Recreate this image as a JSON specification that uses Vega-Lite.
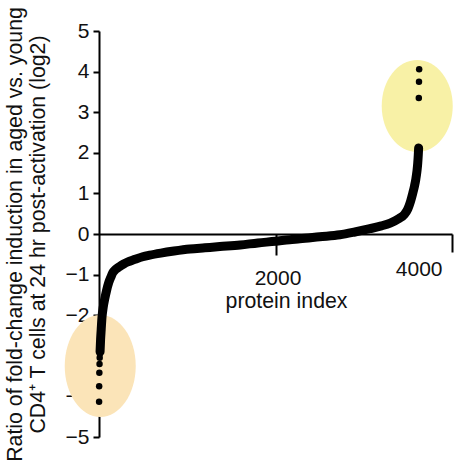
{
  "$schema": "https://vega.github.io/schema/vega-lite/v6.json",
  "width": 353,
  "height": 406,
  "autosize": {"type": "none"},
  "padding": {"left": 99, "top": 31, "right": 20, "bottom": 32},
  "background": "white",
  "config": {
    "view": {"stroke": null},
    "font": "Liberation Sans",
    "axis": {
      "grid": false,
      "domainColor": "black",
      "domainWidth": 2,
      "tickColor": "black",
      "tickWidth": 2,
      "labelColor": "#111111",
      "labelFont": "Liberation Sans",
      "labelFontSize": 21,
      "titleColor": "#111111",
      "titleFont": "Liberation Sans",
      "titleFontSize": 21.3,
      "titleFontWeight": "normal",
      "zindex": 1
    }
  },
  "datasets": {
    "curve": [
      {"x": 12, "y": -2.9},
      {"x": 18, "y": -2.6},
      {"x": 25, "y": -2.35},
      {"x": 34, "y": -2.05},
      {"x": 48, "y": -1.8},
      {"x": 65, "y": -1.6},
      {"x": 85, "y": -1.4},
      {"x": 110, "y": -1.2},
      {"x": 135, "y": -1.06},
      {"x": 155, "y": -0.96},
      {"x": 190, "y": -0.87},
      {"x": 235, "y": -0.8},
      {"x": 280, "y": -0.74},
      {"x": 325, "y": -0.69},
      {"x": 400, "y": -0.63},
      {"x": 495, "y": -0.56},
      {"x": 575, "y": -0.52},
      {"x": 700, "y": -0.47},
      {"x": 850, "y": -0.42},
      {"x": 1030, "y": -0.37},
      {"x": 1200, "y": -0.34},
      {"x": 1370, "y": -0.31},
      {"x": 1600, "y": -0.27},
      {"x": 1800, "y": -0.22},
      {"x": 2000, "y": -0.18},
      {"x": 2160, "y": -0.14},
      {"x": 2275, "y": -0.12},
      {"x": 2500, "y": -0.07},
      {"x": 2730, "y": -0.02},
      {"x": 2900, "y": 0.05},
      {"x": 3070, "y": 0.13},
      {"x": 3200, "y": 0.2},
      {"x": 3300, "y": 0.27},
      {"x": 3400, "y": 0.38},
      {"x": 3460, "y": 0.48},
      {"x": 3500, "y": 0.62},
      {"x": 3530, "y": 0.8},
      {"x": 3555, "y": 1.0},
      {"x": 3575, "y": 1.18},
      {"x": 3590, "y": 1.35},
      {"x": 3603, "y": 1.55},
      {"x": 3612, "y": 1.75},
      {"x": 3618, "y": 1.95},
      {"x": 3622, "y": 2.12}
    ],
    "outliers": [
      {"x": 1, "y": -4.13},
      {"x": 2, "y": -3.75},
      {"x": 4, "y": -3.42},
      {"x": 6, "y": -3.2},
      {"x": 8, "y": -3.05},
      {"x": 10, "y": -2.95},
      {"x": 3624, "y": 3.35},
      {"x": 3626, "y": 3.75},
      {"x": 3628, "y": 4.06}
    ],
    "highlights": [
      {"group": "up", "x": 3606, "y": 3.15},
      {"group": "down", "x": 14, "y": -3.25}
    ]
  },
  "encoding": {
    "x": {
      "field": "x",
      "type": "quantitative",
      "scale": {"domain": [0, 4000], "nice": false, "zero": false},
      "axis": {
        "values": [2000, 4000],
        "format": "d",
        "offset": -203,
        "tickSize": {"condition": {"test": "datum.value === 4000", "value": 18}, "value": 21},
        "labelPadding": {"condition": {"test": "datum.value === 4000", "value": 6}, "value": 12},
        "labelOffset": {"condition": {"test": "datum.value === 4000", "value": -10}, "value": 2},
        "title": "protein index",
        "titleX": 187,
        "titleY": 73,
        "titleAlign": "center",
        "titleBaseline": "alphabetic"
      }
    },
    "y": {
      "field": "y",
      "type": "quantitative",
      "scale": {"domain": [-5, 5], "nice": false, "zero": false},
      "axis": {
        "values": [-5, -4, -3, -2, -1, 0, 1, 2, 3, 4, 5],
        "tickSize": 6,
        "labelPadding": 4,
        "title": ["Ratio of fold-change induction in aged vs. young", "CD4⁺ T cells at 24 hr post-activation (log2)"],
        "titleX": -78,
        "titleY": 203,
        "titleAngle": -90,
        "titleAlign": "center",
        "titleBaseline": "alphabetic",
        "titleLineHeight": 23.5
      }
    }
  },
  "layer": [
    {
      "data": {"name": "highlights"},
      "transform": [{"filter": "datum.group === 'up'"}],
      "mark": {
        "type": "point",
        "filled": true,
        "shape": "M -0.772 0 A 0.772 1 0 1 1 0.772 0 A 0.772 1 0 1 1 -0.772 0 Z",
        "size": 8464,
        "color": "#F8F1A6",
        "opacity": 1,
        "strokeWidth": 0
      }
    },
    {
      "data": {"name": "highlights"},
      "transform": [{"filter": "datum.group === 'down'"}],
      "mark": {
        "type": "point",
        "filled": true,
        "shape": "M -0.696 0 A 0.696 1 0 1 1 0.696 0 A 0.696 1 0 1 1 -0.696 0 Z",
        "size": 10404,
        "color": "#FBE4B8",
        "opacity": 1,
        "strokeWidth": 0
      }
    },
    {
      "data": {"name": "curve"},
      "mark": {
        "type": "line",
        "color": "black",
        "strokeWidth": 9,
        "strokeCap": "round",
        "strokeJoin": "round",
        "interpolate": "monotone"
      },
      "encoding": {}
    },
    {
      "data": {"name": "outliers"},
      "mark": {"type": "point", "filled": true, "color": "black", "size": 42, "opacity": 1}
    }
  ]
}
